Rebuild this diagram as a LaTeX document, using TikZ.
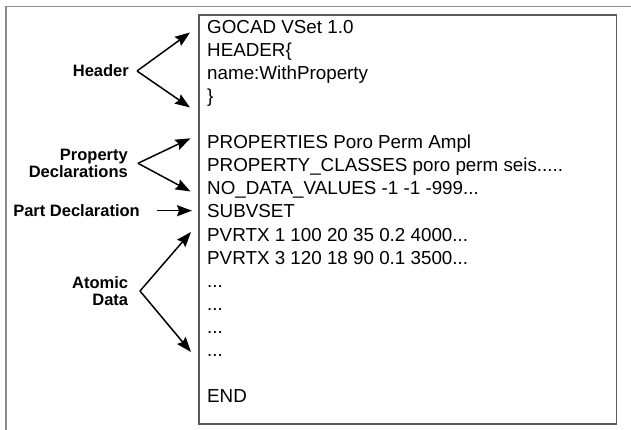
\documentclass[tikz,border=0pt]{standalone}
\usepackage{fontspec}
\setmainfont{Liberation Sans}
\usetikzlibrary{arrows.meta}

\tikzset{
  codeline/.style={anchor=base west, inner sep=0pt, font=\fontsize{18.8}{23}\selectfont},
  partlabel/.style={anchor=east, inner sep=0pt, align=right,
    font=\bfseries\fontsize{16.5}{17}\selectfont},
  pointer/.style={line width=1.5pt, -{Stealth[length=15pt,width=11pt,inset=2pt]}},
  frameline/.style={draw=black!45, line width=1.8pt},
  filebox/.style={draw=black!65, line width=1.2pt}
}

\begin{document}
\begin{tikzpicture}[x=1pt,y=-1pt]
  \useasboundingbox (0,0) rectangle (631,430);

  % window frame (top and left edges)
  \draw[frameline] (6,6.5) -- (631,6.5);
  \draw[frameline] (6,5.6) -- (6,430);

  % the VSet file
  \draw[filebox] (199,15) rectangle (616.5,424);

  \node[codeline] (l0)  at (207,34)  {GOCAD VSet 1.0};
  \node[codeline] (l1)  at (207,57)  {HEADER\{};
  \node[codeline] (l2)  at (207,80)  {name:WithProperty};
  \node[codeline] (l3)  at (207,103) {\}};
  \node[codeline] (l5)  at (207,149) {PROPERTIES Poro Perm Ampl};
  \node[codeline] (l6)  at (207,172) {PROPERTY\_CLASSES poro perm seis.....};
  \node[codeline] (l7)  at (207,195) {NO\_DATA\_VALUES -1 -1 -999...};
  \node[codeline] (l8)  at (207,218) {SUBVSET};
  \node[codeline] (l9)  at (207,241) {PVRTX 1 100 20 35 0.2 4000...};
  \node[codeline] (l10) at (207,264) {PVRTX 3 120 18 90 0.1 3500...};
  \node[codeline] (l11) at (207,287) {...};
  \node[codeline] (l12) at (207,310) {...};
  \node[codeline] (l13) at (207,333) {...};
  \node[codeline] (l14) at (207,356) {...};
  \node[codeline] (l16) at (207,402) {END};

  % section labels
  \node[partlabel] (hdr)  at (129,71)    {Header};
  \node[partlabel] (prop) at (128,163)   {Property\\Declarations};
  \node[partlabel] (part) at (140,210.7) {Part Declaration};
  \node[partlabel] (atom) at (128.3,291) {Atomic\\Data};

  % bracket vertices and arrow targets
  \coordinate (hdrV)  at (137,71);
  \coordinate (hdrA)  at (190,32.5);
  \coordinate (hdrB)  at (190,107.5);
  \coordinate (propV) at (138,163.3);
  \coordinate (propA) at (190.5,138.3);
  \coordinate (propB) at (190.5,191.5);
  \coordinate (partV) at (157,210.7);
  \coordinate (partA) at (192,210.7);
  \coordinate (atomV) at (140,291);
  \coordinate (atomA) at (191,232);
  \coordinate (atomB) at (191,352);

  \draw[pointer] (hdrV) -- (hdrA);
  \draw[pointer] (hdrV) -- (hdrB);
  \draw[pointer] (propV) -- (propA);
  \draw[pointer] (propV) -- (propB);
  \draw[pointer] (partV) -- (partA);
  \draw[pointer] (atomV) -- (atomA);
  \draw[pointer] (atomV) -- (atomB);
\end{tikzpicture}
\end{document}
